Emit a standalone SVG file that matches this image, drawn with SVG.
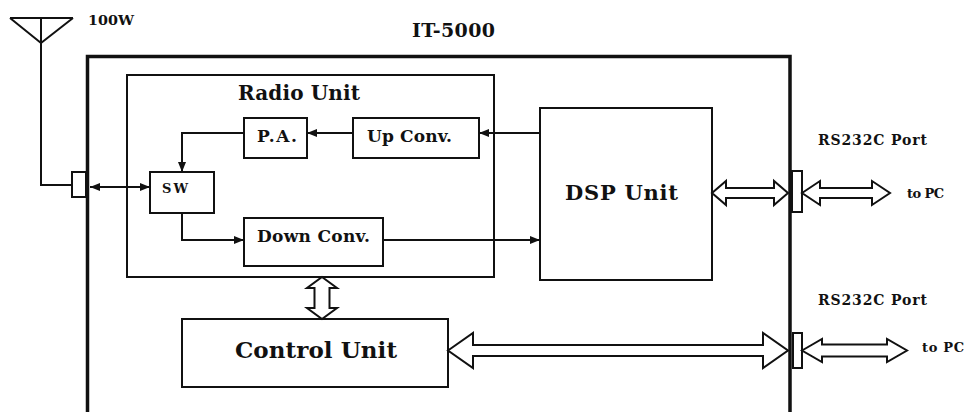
<svg xmlns="http://www.w3.org/2000/svg" width="965" height="412" viewBox="0 0 965 412">
<style>
  .box{fill:#fff;stroke:#111;stroke-width:2}
  .wire{fill:none;stroke:#111;stroke-width:2}
  .hollow{fill:#fff;stroke:#111;stroke-width:2;stroke-linejoin:miter}
  .t{font-family:"DejaVu Serif","Liberation Serif",serif;font-weight:bold;fill:#111}
</style>
<defs>
  <marker id="ah" viewBox="0 0 10 8" refX="10" refY="4" markerWidth="10" markerHeight="8" markerUnits="userSpaceOnUse" orient="auto-start-reverse">
    <path d="M0,0 L10,4 L0,8 z" fill="#111"/>
  </marker>
</defs>
<rect width="965" height="412" fill="#fff"/>

<g id="antenna">
  <path class="wire" d="M10,18 H73 M10,18 L41,43 L73,18 M41,18 V185 H72"/>
  <text class="t" x="88" y="25" font-size="12" textLength="46" lengthAdjust="spacingAndGlyphs">100W</text>
</g>

<g id="it5000">
  <path d="M87.5,415 V56.5 H790 V415" fill="none" stroke="#111" stroke-width="3.5"/>
  <text class="t" x="412" y="37" font-size="19" textLength="83">IT-5000</text>
</g>

<g id="antenna-port"><rect class="box" x="72" y="172" width="14" height="25"/></g>

<g id="radio-unit">
  <rect class="box" x="127" y="75" width="367" height="202"/>
  <text class="t" x="238" y="100" font-size="20" textLength="122">Radio Unit</text>
</g>

<g id="pa">
  <rect class="box" x="244" y="118" width="63" height="40"/>
  <text class="t" x="257" y="142" font-size="17" textLength="40">P.A.</text>
</g>

<g id="up-conv">
  <rect class="box" x="353" y="118" width="126" height="40"/>
  <text class="t" x="367" y="142" font-size="17" textLength="85">Up Conv.</text>
</g>

<g id="sw">
  <rect class="box" x="150" y="172" width="64" height="41"/>
  <text class="t" x="162" y="193" font-size="13" textLength="26">SW</text>
</g>

<g id="down-conv">
  <rect class="box" x="244" y="218" width="139" height="48"/>
  <text class="t" x="257" y="242" font-size="17" textLength="113">Down Conv.</text>
</g>

<g id="dsp-unit">
  <rect class="box" x="540" y="108" width="172" height="172"/>
  <text class="t" x="565" y="200" font-size="21" textLength="113">DSP Unit</text>
</g>

<g id="control-unit">
  <rect class="box" x="182" y="319" width="266" height="68"/>
  <text class="t" x="235" y="358" font-size="23" textLength="162">Control Unit</text>
</g>

<g id="rs232c-port-1">
  <rect class="box" x="792" y="171" width="10" height="41"/>
  <text class="t" x="818" y="145" font-size="14" textLength="109">RS232C Port</text>
  <text class="t" x="907" y="198" font-size="13" textLength="37">to PC</text>
</g>

<g id="rs232c-port-2">
  <rect class="box" x="793" y="333" width="9" height="35"/>
  <text class="t" x="818" y="305" font-size="14" textLength="109">RS232C Port</text>
  <text class="t" x="922" y="352" font-size="13" textLength="42">to PC</text>
</g>

<g id="connectors">
  <path class="wire" d="M540,133 H479" marker-end="url(#ah)"/>
  <path class="wire" d="M353,133 H307" marker-end="url(#ah)"/>
  <path class="wire" d="M244,133 H182 V172" marker-end="url(#ah)"/>
  <path class="wire" d="M182,213 V240 H244" marker-end="url(#ah)"/>
  <path class="wire" d="M383,240 H540" marker-end="url(#ah)"/>
  <path class="wire" d="M90,187 H150" marker-start="url(#ah)" marker-end="url(#ah)"/>
  <!-- hollow double arrows -->
  <polygon class="hollow" points="712,193 726,181 726,188 774,188 774,181 788,193 774,205 774,198 726,198 726,205"/>
  <polygon class="hollow" points="802,193 820,181 820,188 872,188 872,181 890,193 872,205 872,198 820,198 820,205"/>
  <polygon class="hollow" points="448,350.5 473,333 473,345 763,345 763,333 788,350.5 763,368 763,356 473,356 473,368"/>
  <polygon class="hollow" points="802,350.5 822,339 822,344.5 887,344.5 887,339 907,350.5 887,362 887,356.5 822,356.5 822,362"/>
  <polygon class="hollow" points="322,277 337,288 329.5,288 329.5,308 337,308 322,319 307,308 314.5,308 314.5,288 307,288"/>
</g>
</svg>
